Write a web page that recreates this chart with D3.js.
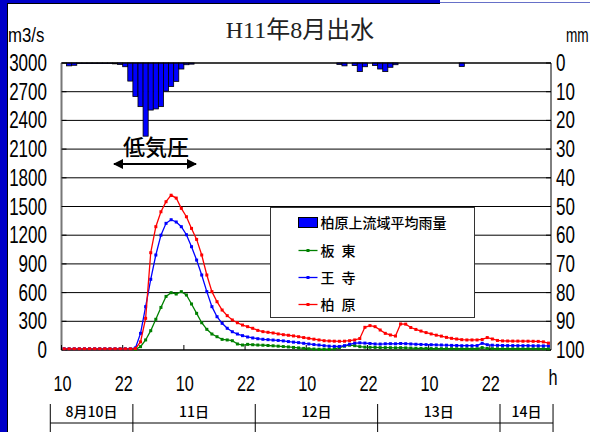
<!DOCTYPE html>
<html>
<head>
<meta charset="utf-8">
<script src="https://cdn.jsdelivr.net/npm/d3@7"></script>
<style>
  body { margin: 0; background: #fff; }
  .num { font-family: "Liberation Sans", Arial, sans-serif; }
  .jp { font-family: "Noto Sans CJK JP", sans-serif; }
</style>
</head>
<body>
<script>
const width = 590;
const height = 432;

// hourly categories, 8/10 10:00 .. 8/14 09:00
const hours = d3.range(96);

// 柏原上流域平均雨量 (mm/h)
const rain = [
  0, 1.0, 0.8, 0.2, 0.2, 0.2, 0.2, 0.2, 0.2, 0.2, 0.3, 0.5, 1.3, 6.3, 11.7, 15.2,
  25.5, 16.4, 16.0, 15.2, 9.8, 8.2, 6.4, 2.1, 0.6, 0.4, 0, 0, 0, 0, 0, 0,
  0, 0, 0, 0, 0, 0, 0, 0, 0, 0, 0, 0, 0, 0, 0, 0,
  0, 0, 0, 0, 0, 0, 0.5, 1.0, 0, 0.9, 3.0, 1.3, 0, 0.9, 2.1, 3.0,
  1.5, 0.6, 0, 0, 0, 0, 0, 0, 0, 0, 0, 0, 0, 0, 1.2, 0,
  0, 0, 0, 0, 0, 0, 0, 0, 0, 0, 0, 0, 0, 0, 0, 0
];

// 板東 (m3/s)
const bando = [
  8, 8, 8, 8, 8, 8, 8, 8, 8, 8, 8, 8, 8, 8, 8, 35,
  105, 202, 321, 445, 560, 599, 585, 610, 575, 481, 383, 285, 216, 167, 139, 111,
  105, 97, 63, 52, 59, 55, 52, 50, 47, 44, 40, 36, 32, 27, 22, 17,
  13, 10, 8, 8, 8, 12, 25, 40, 50, 45, 35, 30, 28, 27, 25, 25,
  24, 23, 24, 22, 20, 18, 17, 16, 15, 15, 14, 14, 14, 13, 13, 13,
  13, 13, 25, 16, 14, 13, 13, 13, 13, 13, 13, 13, 13, 13, 13, 13
];

// 王寺 (m3/s)
const ouji = [
  12, 12, 12, 12, 12, 12, 12, 12, 12, 12, 12, 12, 12, 12, 22, 174,
  453, 739, 993, 1200, 1324, 1362, 1338, 1289, 1205, 1080, 940, 784, 610, 453, 348, 279,
  227, 191, 167, 150, 136, 126, 118, 112, 108, 104, 100, 95, 88, 82, 77, 70,
  63, 57, 52, 45, 40, 38, 37, 45, 60, 72, 75, 72, 68, 63, 62, 65,
  66, 65, 68, 66, 63, 60, 58, 56, 55, 53, 52, 50, 48, 47, 45, 45,
  45, 46, 70, 55, 50, 48, 47, 46, 46, 45, 45, 45, 44, 44, 43, 43
];

// 柏原 (m3/s)
const kashiwara = [
  12, 12, 12, 12, 12, 12, 12, 12, 12, 12, 12, 12, 12, 12, 15, 85,
  331, 1017, 1289, 1445, 1550, 1618, 1588, 1481, 1393, 1271, 1156, 993, 784, 610, 505, 418,
  359, 314, 285, 261, 244, 227, 205, 192, 185, 178, 168, 160, 154, 147, 139, 130,
  122, 113, 105, 97, 94, 92, 91, 92, 97, 105, 120, 237, 255, 244, 209, 174,
  157, 146, 272, 270, 235, 215, 198, 182, 168, 155, 145, 132, 122, 115, 108, 105,
  105, 105, 110, 130, 115, 100, 95, 94, 93, 93, 92, 92, 91, 90, 85, 72
];

const flowTicks = [0, 300, 600, 900, 1200, 1500, 1800, 2100, 2400, 2700, 3000];
const rainTicks = [0, 10, 20, 30, 40, 50, 60, 70, 80, 90, 100];
const hourTicks = [0, 12, 24, 36, 48, 60, 72, 84];
const hourLabels = ['10', '22', '10', '22', '10', '22', '10', '22'];
const dayStarts = [-2.2, 14, 38, 62, 86, 96.4];
const dayLabels = ['8月10日', '11日', '12日', '13日', '14日'];

const series = [
  { name: '板\u2002東', values: bando, color: '#008000' },
  { name: '王\u2002寺', values: ouji, color: '#0000ff' },
  { name: '柏\u2002原', values: kashiwara, color: '#ff0000' }
];

const pLeft = 61.5, pRight = 551, pTop = 63, pBottom = 350;
const narrow = 0.74; // the original uses tall narrow digits

const x = d3.scaleLinear().domain([0, 96]).range([pLeft, pRight]);
const y = d3.scaleLinear().domain([0, 3000]).range([pBottom, pTop]);
const yRain = d3.scaleLinear().domain([0, 100]).range([pTop, pBottom]);

const svg = d3.select('body')
  .append('svg')
  .attr('width', width)
  .attr('height', height);

svg.append('rect')
  .attr('width', width)
  .attr('height', height)
  .attr('fill', 'white');

// slide frame
svg.append('rect').attr('x', 0).attr('y', 0).attr('width', 7).attr('height', height).attr('fill', '#0000c8');
svg.append('rect').attr('x', 0).attr('y', 0).attr('width', 440).attr('height', 3).attr('fill', '#0000c8');
svg.append('line').attr('x1', 440).attr('x2', width).attr('y1', 2.5).attr('y2', 2.5)
  .attr('stroke', '#6670c8').attr('stroke-width', 1);
svg.append('line').attr('x1', 7.5).attr('x2', 7.5).attr('y1', 3).attr('y2', height)
  .attr('stroke', 'black').attr('stroke-width', 1);
svg.append('line').attr('x1', 7).attr('x2', 440).attr('y1', 3.5).attr('y2', 3.5)
  .attr('stroke', 'black').attr('stroke-width', 1);

// title
svg.append('text')
  .attr('x', 300)
  .attr('y', 38)
  .attr('text-anchor', 'middle')
  .attr('font-family', '"Liberation Serif", "Noto Sans CJK JP", serif')
  .attr('font-size', 24)
  .attr('fill', '#222')
  .text('H11年8月出水');

// horizontal grid
svg.selectAll('.grid')
  .data(flowTicks.slice(1))
  .enter()
  .append('line')
  .attr('x1', pLeft)
  .attr('x2', pRight)
  .attr('y1', d => y(d))
  .attr('y2', d => y(d))
  .attr('stroke', 'black')
  .attr('stroke-width', 1);

// rain bars hang from the top
svg.selectAll('.bar')
  .data(hours.filter(h => rain[h] > 0))
  .enter()
  .append('rect')
  .attr('x', d => x(d))
  .attr('y', pTop)
  .attr('width', x(1) - x(0))
  .attr('height', d => yRain(rain[d]) - pTop)
  .attr('fill', '#0000ff')
  .attr('stroke', 'black')
  .attr('stroke-width', 0.8);

// axes lines
svg.append('line').attr('x1', pLeft).attr('x2', pLeft).attr('y1', pTop).attr('y2', pBottom)
  .attr('stroke', '#777').attr('stroke-width', 2);
svg.append('line').attr('x1', pRight).attr('x2', pRight).attr('y1', pTop).attr('y2', pBottom)
  .attr('stroke', 'black').attr('stroke-width', 1);
svg.append('line').attr('x1', pLeft).attr('x2', pRight).attr('y1', pBottom).attr('y2', pBottom)
  .attr('stroke', 'black').attr('stroke-width', 1.5);
svg.append('line').attr('x1', pLeft).attr('x2', pRight).attr('y1', pTop).attr('y2', pTop)
  .attr('stroke', 'black').attr('stroke-width', 1);

// left axis ticks + labels
svg.selectAll('.lt')
  .data(flowTicks)
  .enter()
  .append('line')
  .attr('x1', pLeft)
  .attr('x2', pLeft + 5)
  .attr('y1', d => y(d))
  .attr('y2', d => y(d))
  .attr('stroke', 'black');

svg.selectAll('.ll')
  .data(flowTicks)
  .enter()
  .append('text')
  .attr('class', 'num')
  .attr('transform', d => `translate(47,${y(d) + 8}) scale(${narrow},1)`)
  .attr('text-anchor', 'end')
  .attr('font-size', 23)
  .text(d => d);

// right axis ticks + labels
svg.selectAll('.rt')
  .data(rainTicks)
  .enter()
  .append('line')
  .attr('x1', pRight - 5)
  .attr('x2', pRight)
  .attr('y1', d => yRain(d))
  .attr('y2', d => yRain(d))
  .attr('stroke', 'black');

svg.selectAll('.rl')
  .data(rainTicks)
  .enter()
  .append('text')
  .attr('class', 'num')
  .attr('transform', d => `translate(556,${yRain(d) + 8}) scale(${narrow},1)`)
  .attr('font-size', 23)
  .text(d => d);

svg.append('text').attr('class', 'num')
  .attr('transform', 'translate(8,42) scale(0.86,1)')
  .attr('font-size', 19.5).text('m3/s');
svg.append('text').attr('class', 'num')
  .attr('transform', 'translate(566,42) scale(0.7,1)')
  .attr('font-size', 19.5).text('mm');

// bottom ticks + hour labels
svg.selectAll('.bt')
  .data(hourTicks)
  .enter()
  .append('line')
  .attr('x1', d => x(d))
  .attr('x2', d => x(d))
  .attr('y1', pBottom - 5)
  .attr('y2', pBottom)
  .attr('stroke', 'black');

svg.selectAll('.bl')
  .data(hourTicks)
  .enter()
  .append('text')
  .attr('class', 'num')
  .attr('transform', d => `translate(${x(d) + 1},391) scale(${narrow},1)`)
  .attr('text-anchor', 'middle')
  .attr('font-size', 22)
  .text((d, i) => hourLabels[i]);

svg.append('text').attr('class', 'num')
  .attr('transform', `translate(553,385) scale(${narrow},1)`)
  .attr('text-anchor', 'middle')
  .attr('font-size', 22).text('h');

// day brackets
svg.append('line')
  .attr('x1', x(dayStarts[0])).attr('x2', x(dayStarts[dayStarts.length - 1]))
  .attr('y1', 423).attr('y2', 423)
  .attr('stroke', 'black');
svg.selectAll('.dt')
  .data(dayStarts)
  .enter()
  .append('line')
  .attr('x1', d => x(d))
  .attr('x2', d => x(d))
  .attr('y1', 404)
  .attr('y2', height)
  .attr('stroke', 'black');
svg.selectAll('.dl')
  .data(dayLabels)
  .enter()
  .append('text')
  .attr('class', 'jp')
  .attr('x', (d, i) => (x(dayStarts[i]) + x(dayStarts[i + 1])) / 2)
  .attr('y', 417)
  .attr('text-anchor', 'middle')
  .attr('font-size', 14)
  .attr('font-weight', 500)
  .text(d => d);

// flow lines
const line = d3.line()
  .x((d, i) => x(i + 0.5))
  .y(d => y(d));

series.forEach(s => {
  svg.append('path')
    .datum(s.values)
    .attr('fill', 'none')
    .attr('stroke', s.color)
    .attr('stroke-width', 1.3)
    .attr('d', line);
  svg.selectAll(null)
    .data(s.values)
    .enter()
    .append('rect')
    .attr('x', (d, i) => x(i + 0.5) - 1.5)
    .attr('y', d => y(d) - 1.5)
    .attr('width', 3)
    .attr('height', 3)
    .attr('fill', s.color);
});

// annotation
svg.append('text')
  .attr('class', 'jp')
  .attr('x', 156)
  .attr('y', 155)
  .attr('text-anchor', 'middle')
  .attr('font-size', 22)
  .attr('font-weight', 500)
  .text('低気圧');

const defs = svg.append('defs');
defs.append('marker')
  .attr('id', 'ah')
  .attr('viewBox', '0 0 10 10')
  .attr('refX', 9)
  .attr('refY', 5)
  .attr('markerWidth', 5)
  .attr('markerHeight', 5)
  .attr('orient', 'auto-start-reverse')
  .append('path')
  .attr('d', 'M0,0L10,5L0,10Z')
  .attr('fill', 'black');

svg.append('line')
  .attr('x1', 114).attr('x2', 196)
  .attr('y1', 164).attr('y2', 164)
  .attr('stroke', 'black')
  .attr('stroke-width', 2)
  .attr('marker-start', 'url(#ah)')
  .attr('marker-end', 'url(#ah)');

// legend
const lg = svg.append('g').attr('transform', 'translate(270.5,207.5)');
lg.append('rect')
  .attr('width', 204)
  .attr('height', 110)
  .attr('fill', 'white')
  .attr('stroke', '#333')
  .attr('stroke-width', 1);

lg.append('rect')
  .attr('x', 28).attr('y', 10)
  .attr('width', 19).attr('height', 10)
  .attr('fill', '#0000ff').attr('stroke', 'black');
lg.append('text')
  .attr('class', 'jp')
  .attr('x', 50).attr('y', 20)
  .attr('font-size', 14)
  .attr('font-weight', 500)
  .text('柏原上流域平均雨量');

series.forEach((s, i) => {
  const yy = 43 + i * 27;
  lg.append('line')
    .attr('x1', 28).attr('x2', 47)
    .attr('y1', yy).attr('y2', yy)
    .attr('stroke', s.color).attr('stroke-width', 1.3);
  lg.append('rect')
    .attr('x', 36).attr('y', yy - 1.5)
    .attr('width', 3).attr('height', 3)
    .attr('fill', s.color);
  lg.append('text')
    .attr('class', 'jp')
    .attr('x', 50).attr('y', yy + 5)
    .attr('font-size', 14)
    .attr('font-weight', 500)
    .text(s.name);
});
</script>
</body>
</html>
